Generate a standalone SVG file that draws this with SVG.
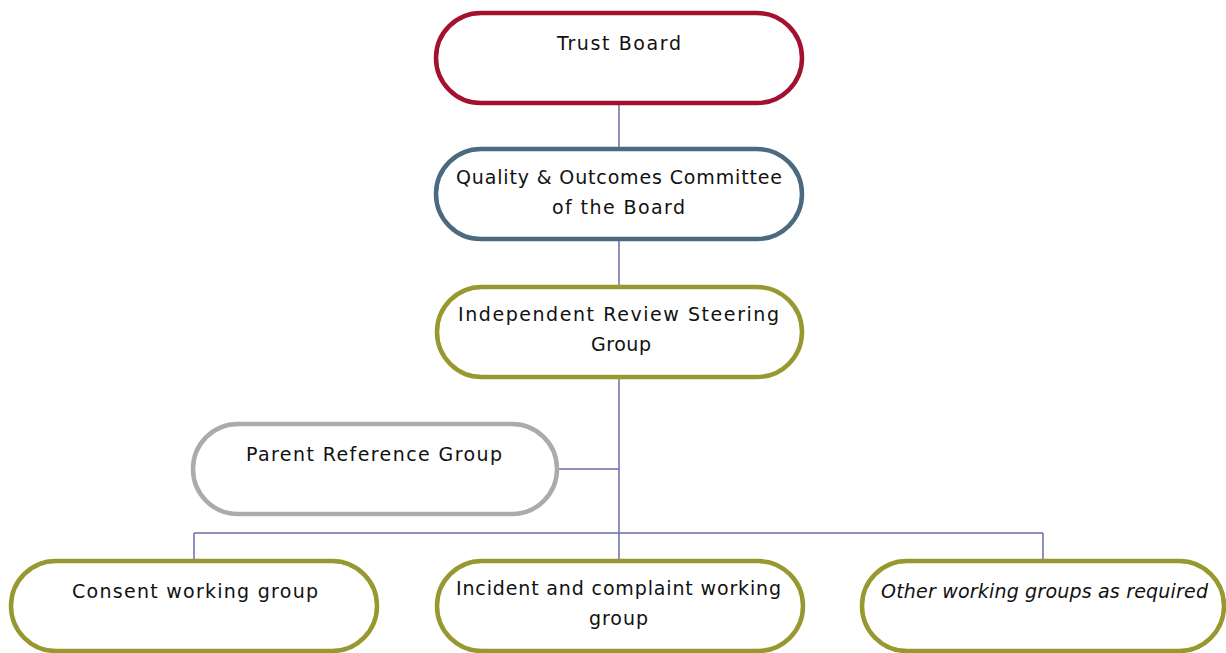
<svg xmlns="http://www.w3.org/2000/svg" width="1226" height="653" viewBox="0 0 1226 653">
<style>
.node{fill:#fff;stroke-width:4.5}
.red{stroke:#A3112E}
.blue{stroke:#4B6A80}
.olive{stroke:#97982F}
.grey{stroke:#ABABAB}
.t{font-family:"DejaVu Sans",sans-serif;font-size:19px;fill:#111;text-anchor:middle}
.conn{stroke:#6E6EA8;stroke-width:1.5;fill:none}
</style>
<rect width="1226" height="653" fill="#fff"/>
<g id="connectors">
<path class="conn" d="M619 104V148M619 240V286M619 378V560M558 469H619M194 533H1043M194 533V560M1043 533V560"/>
</g>
<g id="trust-board">
<rect class="node red" x="436" y="13" width="366" height="90" rx="45"/>
<text class="t" x="619" y="50" textLength="124" lengthAdjust="spacing">Trust Board</text>
</g>
<g id="quality">
<rect class="node blue" x="436" y="149" width="366" height="90" rx="45"/>
<text class="t" x="619" y="184" textLength="326" lengthAdjust="spacing">Quality &amp; Outcomes Committee</text>
<text class="t" x="618.5" y="214" textLength="133" lengthAdjust="spacing">of the Board</text>
</g>
<g id="steering">
<rect class="node olive" x="437" y="287" width="365" height="90" rx="45"/>
<text class="t" x="618.5" y="321" textLength="321" lengthAdjust="spacing">Independent Review Steering</text>
<text class="t" x="621" y="351" textLength="60" lengthAdjust="spacing">Group</text>
</g>
<g id="parent">
<rect class="node grey" x="193" y="424" width="364" height="90" rx="45"/>
<text class="t" x="374" y="461" textLength="256" lengthAdjust="spacing">Parent Reference Group</text>
</g>
<g id="consent">
<rect class="node olive" x="11" y="561" width="366" height="90" rx="45"/>
<text class="t" x="195" y="598" textLength="246" lengthAdjust="spacing">Consent working group</text>
</g>
<g id="incident">
<rect class="node olive" x="437" y="561" width="366" height="90" rx="45"/>
<text class="t" x="618.5" y="595" textLength="325" lengthAdjust="spacing">Incident and complaint working</text>
<text class="t" x="618.5" y="625" textLength="59" lengthAdjust="spacing">group</text>
</g>
<g id="other">
<rect class="node olive" x="862" y="561" width="362" height="90" rx="45"/>
<text class="t" x="1044.5" y="598" font-style="italic" textLength="327" lengthAdjust="spacing">Other working groups as required</text>
</g>
</svg>
